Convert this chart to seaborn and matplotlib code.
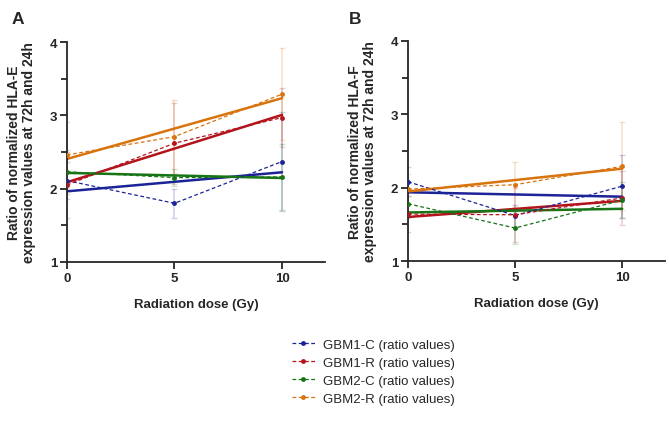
import numpy as np
import pandas as pd
import seaborn as sns
import matplotlib.pyplot as plt
from matplotlib.lines import Line2D

sns.set_style("ticks")
plt.rcParams['font.family'] = ['Liberation Sans', 'DejaVu Sans']

doses = [0, 5, 10]
lines = ['GBM1-C', 'GBM1-R', 'GBM2-C', 'GBM2-R']
colors = ['#1c2396', '#b3141c', '#177417', '#d8730e']

# HLA-E ratio means and sd
hla_e_mean = {'GBM1-C': [2.11, 1.80, 2.37],
              'GBM1-R': [2.05, 2.62, 2.97],
              'GBM2-C': [2.23, 2.15, 2.16],
              'GBM2-R': [2.46, 2.71, 3.29]}
hla_e_sd = {'GBM1-C': [0.25, 0.20, 0.67],
            'GBM1-R': [0.45, 0.55, 0.40],
            'GBM2-C': [0.30, 0.12, 0.45],
            'GBM2-R': [0.45, 0.50, 0.63]}

# HLA-F ratio means and sd
hla_f_mean = {'GBM1-C': [2.08, 1.62, 2.02],
              'GBM1-R': [1.64, 1.63, 1.86],
              'GBM2-C': [1.78, 1.45, 1.83],
              'GBM2-R': [1.98, 2.04, 2.29]}
hla_f_sd = {'GBM1-C': [0.20, 0.15, 0.43],
            'GBM1-R': [0.25, 0.37, 0.37],
            'GBM2-C': [0.20, 0.22, 0.25],
            'GBM2-R': [0.20, 0.31, 0.60]}

fig = plt.figure(figsize=(6.69, 4.31), dpi=100)
axA = fig.add_axes([0.100, 0.390, 0.386, 0.510])
axB = fig.add_axes([0.610, 0.392, 0.384, 0.511])

def draw(ax, means, sds, gene):
    for name, col in zip(lines, colors):
        df = pd.DataFrame({'dose': doses, 'ratio': means[name], 'sd': sds[name]})
        ax.errorbar(df['dose'], df['ratio'], yerr=df['sd'], fmt='none',
                    ecolor=col, alpha=0.2, elinewidth=1.2, capsize=2.5, zorder=1)
        sns.lineplot(data=df, x='dose', y='ratio', ax=ax, color=col,
                     linestyle=(0, (3, 2)), linewidth=0.9, marker='o',
                     markersize=3.5, markeredgewidth=0, zorder=3)
        sns.regplot(data=df, x='dose', y='ratio', ax=ax, scatter=False, ci=None,
                    line_kws={'color': col, 'linewidth': 1.8, 'zorder': 2})
    ax.set_xlim(0, 12)
    ax.set_ylim(1, 4)
    ax.set_xticks([0, 5, 10])
    ax.set_yticks([1, 2, 3, 4])
    ax.set_yticks([1.5, 2.5, 3.5], minor=True)
    ax.tick_params(axis='both', which='major', length=5, width=1.3, labelsize=9.5, pad=2)
    ax.tick_params(axis='y', which='minor', length=4, width=1.3)
    for lab in ax.get_xticklabels() + ax.get_yticklabels():
        lab.set_fontweight('bold')
    ax.set_xlabel('Radiation dose (Gy)', fontsize=9.5, fontweight='bold', labelpad=10)
    ax.set_ylabel('Ratio of normalized ' + gene + '\nexpression values at 72h and 24h',
                  fontsize=10, fontweight='bold', labelpad=10, linespacing=1.05)
    sns.despine(ax=ax)
    ax.spines['left'].set_linewidth(1.3)
    ax.spines['bottom'].set_linewidth(1.3)

draw(axA, hla_e_mean, hla_e_sd, 'HLA-E')
draw(axB, hla_f_mean, hla_f_sd, 'HLA-F')

fig.text(0.018, 0.945, 'A', fontsize=12.5, fontweight='bold')
fig.text(0.522, 0.945, 'B', fontsize=12.5, fontweight='bold')

handles = [Line2D([0], [0], color=c, linestyle=(0, (3, 2)), linewidth=0.9,
                  marker='o', markersize=3.5, markeredgewidth=0) for c in colors]
labels = [n + ' (ratio values)' for n in lines]
fig.legend(handles, labels, loc='upper left', bbox_to_anchor=(0.428, 0.225),
           frameon=False, fontsize=9.5, handlelength=1.75, handletextpad=0.6,
           labelspacing=0.45, borderaxespad=0)

fig.savefig('out.png', dpi=100)
